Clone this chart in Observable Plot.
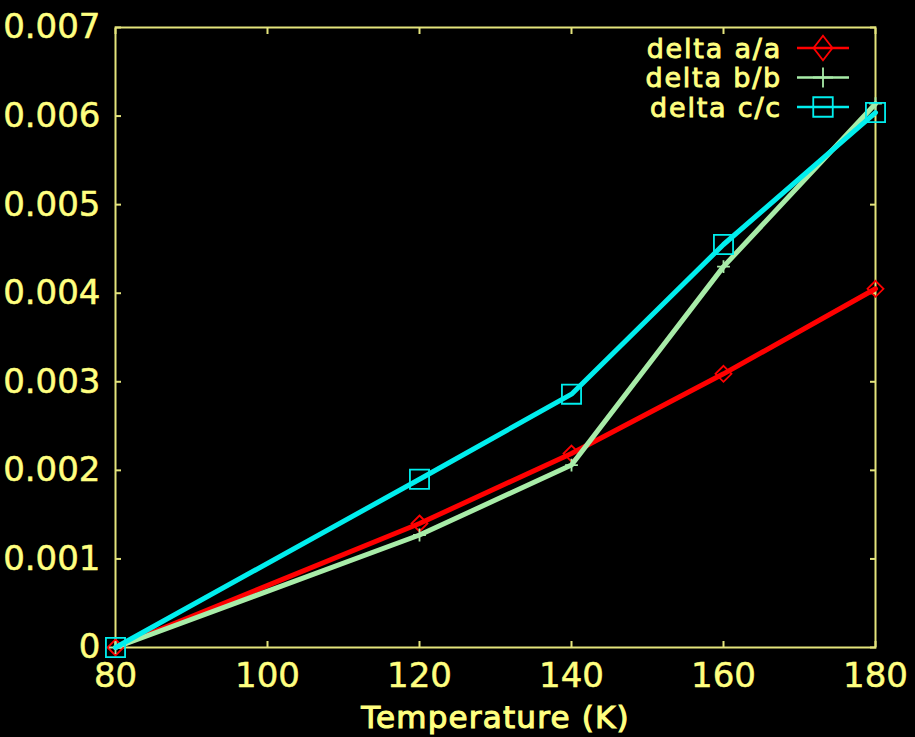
<!DOCTYPE html>
<html>
<head>
<meta charset="utf-8">
<script src="https://cdn.jsdelivr.net/npm/d3@7"></script>
<script src="https://cdn.jsdelivr.net/npm/@observablehq/plot@0.6"></script>
<style>
  html, body { margin: 0; padding: 0; background: #000; }
  #wrap { position: relative; width: 915px; height: 737px; overflow: hidden; }
  #legend { position: absolute; left: 0; top: 0; pointer-events: none; }
</style>
</head>
<body>
<div id="wrap"></div>
<script>
// ---- data ----
const temperatures = [80, 120, 140, 160, 180];
const deltaA = [0, 0.00140, 0.00219, 0.00309, 0.00405];
const deltaB = [0, 0.00127, 0.00206, 0.00430, 0.00614];
const deltaC = [0, 0.00190, 0.00286, 0.00455, 0.00604];
const seriesNames = ["delta a/a", "delta b/b", "delta c/c"];
const xTicks = [80, 100, 120, 140, 160, 180];
const yTicks = [0, 0.001, 0.002, 0.003, 0.004, 0.005, 0.006, 0.007];
const xLabel = "Temperature (K)";

// ---- styling ----
const seriesColors = ["#ff0000", "#a8eca8", "#00eeee"];
const seriesSymbols = ["diamond2", "plus", "square"];
const symbolR = [7.2, 4.2, 10.8];
const legendSymbolR = [8.5, 6.5, 11];
const textColor = "#ffff80";
const frameColor = "#e4e47c";

const seriesValues = [deltaA, deltaB, deltaC];
const rows = [];
seriesNames.forEach((name, s) => {
  temperatures.forEach((t, i) => rows.push({series: name, s, t, v: seriesValues[s][i]}));
});

const marks = [
  Plot.frame({stroke: frameColor, strokeWidth: 2}),
  // inward ticks on all four sides
  Plot.axisX({anchor: "bottom", ticks: xTicks, tickSize: -6, tickFormat: () => "", label: null, stroke: frameColor, strokeWidth: 2}),
  Plot.axisX({anchor: "top", ticks: xTicks, tickSize: -6, tickFormat: () => "", label: null, stroke: frameColor, strokeWidth: 2}),
  Plot.axisY({anchor: "left", ticks: yTicks, tickSize: -6, tickFormat: () => "", label: null, stroke: frameColor, strokeWidth: 2}),
  Plot.axisY({anchor: "right", ticks: yTicks, tickSize: -6, tickFormat: () => "", label: null, stroke: frameColor, strokeWidth: 2}),
  // labelled axes
  Plot.axisX({anchor: "bottom", ticks: xTicks, tickSize: 0, tickPadding: 15, label: xLabel, labelAnchor: "center", labelOffset: 80, fill: textColor}),
  Plot.axisY({anchor: "left", ticks: yTicks, tickSize: 0, tickPadding: 15, label: null, fill: textColor,
    tickFormat: d => d === 0 ? "0" : d3.format(".3f")(d)})
];
seriesNames.forEach((name, s) => {
  const data = rows.filter(r => r.s === s);
  marks.push(Plot.line(data, {x: "t", y: "v", stroke: seriesColors[s], strokeWidth: 5, strokeLinejoin: "round"}));
  marks.push(Plot.dot(data, {x: "t", y: "v", symbol: () => seriesSymbols[s], r: symbolR[s], stroke: seriesColors[s], strokeWidth: 1.8, fill: "none"}));
});

const chart = Plot.plot({
  width: 915,
  height: 737,
  marginLeft: 115,
  marginRight: 40,
  marginTop: 27,
  marginBottom: 90,
  style: {background: "#000", color: textColor, fontFamily: "DejaVu Sans", fontSize: "34px"},
  x: {domain: [80, 180]},
  y: {domain: [0, 0.007]},
  marks
});
document.getElementById("wrap").appendChild(chart);

// slightly heavier tick labels, like the bitmap font of the reference
chart.querySelectorAll('[aria-label="x-axis tick label"] text, [aria-label="y-axis tick label"] text').forEach(t => {
  t.setAttribute("stroke", textColor);
  t.setAttribute("stroke-width", "0.5");
});
// axis label: no arrow, heavier
const lab = chart.querySelector('[aria-label="x-axis label"] text');
if (lab) {
  lab.textContent = xLabel;
  lab.setAttribute("font-size", "31px");
  lab.setAttribute("letter-spacing", "1.2px");
  lab.setAttribute("stroke", textColor);
  lab.setAttribute("stroke-width", "1.1");
}

// ---- legend (top right, inside the frame) ----
const lg = d3.select("#wrap").append("svg")
  .attr("id", "legend").attr("width", 915).attr("height", 737);
const legendTextX = 782, lineX1 = 797, lineX2 = 849, legendY0 = 48, legendDy = 29.5;
seriesNames.forEach((name, s) => {
  const y = legendY0 + s * legendDy;
  lg.append("text").attr("x", legendTextX).attr("y", y).attr("dy", "0.36em")
    .attr("text-anchor", "end").attr("fill", textColor)
    .attr("stroke", textColor).attr("stroke-width", 0.9)
    .attr("font-family", "DejaVu Sans").attr("font-size", 27).attr("letter-spacing", "1.8px")
    .text(name);
  lg.append("line").attr("x1", lineX1).attr("x2", lineX2).attr("y1", y).attr("y2", y)
    .attr("stroke", seriesColors[s]).attr("stroke-width", 2.5);
  const sym = {diamond2: d3.symbolDiamond2, plus: d3.symbolPlus, square: d3.symbolSquare}[seriesSymbols[s]];
  const rr = legendSymbolR[s];
  const sy = s === 0 ? 1.3 : 1;
  lg.append("path").attr("transform", `translate(${(lineX1 + lineX2) / 2},${y}) scale(1,${sy})`)
    .attr("d", d3.symbol(sym, rr * rr * Math.PI)())
    .attr("fill", "none").attr("stroke", seriesColors[s]).attr("stroke-width", 1.8)
    .attr("vector-effect", "non-scaling-stroke");
});
</script>
</body>
</html>
